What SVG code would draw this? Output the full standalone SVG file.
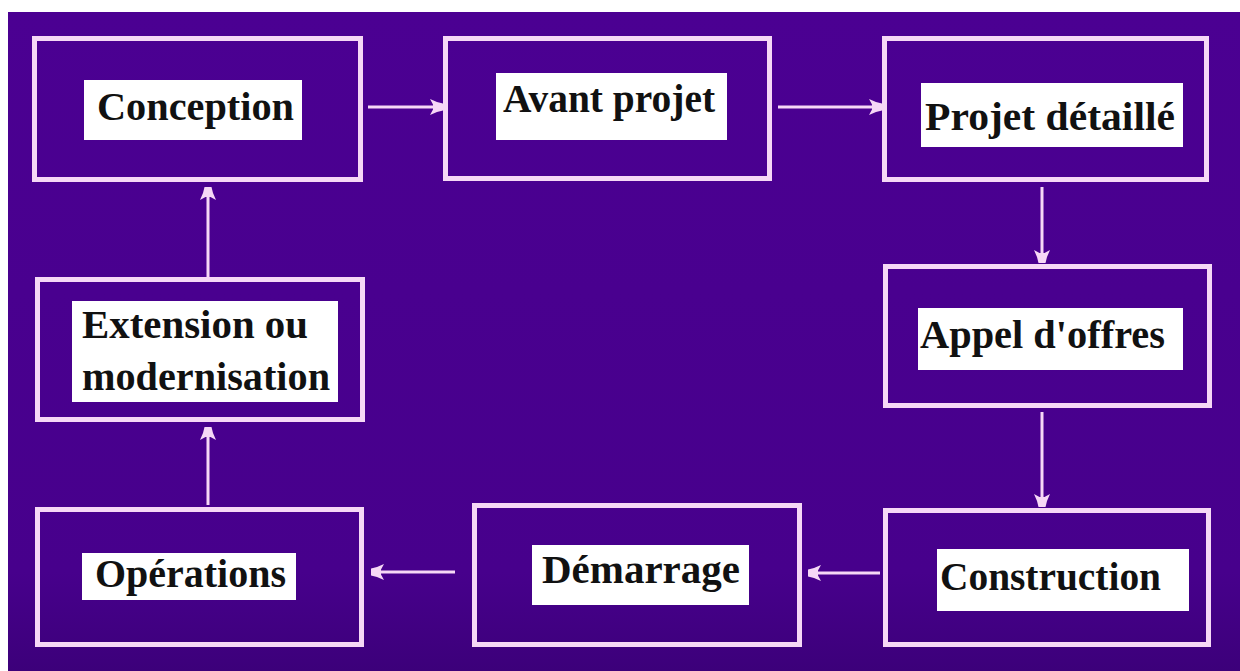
<svg xmlns="http://www.w3.org/2000/svg" width="1240" height="671" viewBox="0 0 1240 671">
  <defs>
    <linearGradient id="bg" x1="0" y1="0" x2="0" y2="1">
      <stop offset="0" stop-color="#4b0092"/>
      <stop offset="0.85" stop-color="#47008c"/>
      <stop offset="1" stop-color="#3c007a"/>
    </linearGradient>
    <marker id="arr" markerUnits="userSpaceOnUse" markerWidth="20" markerHeight="20" viewBox="-16 -10 18 20" refX="0" refY="0" orient="auto">
      <path d="M0,-3.5 L-6,-5 L-13,-8 L-10,-2.5 L-10,2.5 L-13,8 L-6,5 L0,3.5 Z" fill="#f6d8f6"/>
    </marker>
    <style>
      .box { fill: none; stroke: #f6d8f6; stroke-width: 5; }
      .lab { fill: #ffffff; }
      .t { font-family: "Liberation Serif", "Times New Roman", serif; font-weight: bold; font-size: 40px; fill: #111111; }
      .conn line { stroke: #f6d8f6; stroke-width: 3; marker-end: url(#arr); }
    </style>
  </defs>

  <rect x="0" y="0" width="1240" height="671" fill="#ffffff"/>
  <rect x="8" y="12" width="1232" height="659" fill="url(#bg)"/>

  <g id="conception">
    <rect class="box" x="34.5" y="38.5" width="326" height="141"/>
    <rect class="lab" x="84" y="80" width="218" height="60"/>
    <text class="t" x="97" y="120" textLength="197" lengthAdjust="spacingAndGlyphs">Conception</text>
  </g>
  <g id="avant-projet">
    <rect class="box" x="445.5" y="38.5" width="324" height="140"/>
    <rect class="lab" x="496" y="73" width="231" height="67"/>
    <text class="t" x="503" y="112" textLength="212" lengthAdjust="spacingAndGlyphs">Avant projet</text>
  </g>
  <g id="projet-detaille">
    <rect class="box" x="884.5" y="38.5" width="322" height="141"/>
    <rect class="lab" x="921" y="83" width="262" height="64"/>
    <text class="t" x="925" y="130" font-size="44" textLength="250" lengthAdjust="spacingAndGlyphs">Projet détaillé</text>
  </g>
  <g id="appel-offres">
    <rect class="box" x="885.5" y="266.5" width="324" height="139"/>
    <rect class="lab" x="918" y="308" width="265" height="62"/>
    <text class="t" x="920" y="348" font-size="42" textLength="245" lengthAdjust="spacingAndGlyphs">Appel d'offres</text>
  </g>
  <g id="construction">
    <rect class="box" x="885.5" y="510.5" width="323" height="134"/>
    <rect class="lab" x="937" y="549" width="252" height="62"/>
    <text class="t" x="940" y="590" font-size="44" font-weight="normal" textLength="221" lengthAdjust="spacingAndGlyphs">Construction</text>
  </g>
  <g id="demarrage">
    <rect class="box" x="474.5" y="505.5" width="325" height="139"/>
    <rect class="lab" x="532" y="545" width="217" height="60"/>
    <text class="t" x="542" y="583" textLength="198" lengthAdjust="spacingAndGlyphs">Démarrage</text>
  </g>
  <g id="operations">
    <rect class="box" x="37.5" y="509.5" width="324" height="135"/>
    <rect class="lab" x="82" y="553" width="214" height="47"/>
    <text class="t" x="95" y="587" textLength="191" lengthAdjust="spacingAndGlyphs">Opérations</text>
  </g>
  <g id="extension">
    <rect class="box" x="37.5" y="279.5" width="325" height="140"/>
    <rect class="lab" x="72" y="301" width="266" height="101"/>
    <text class="t" x="82" y="338" textLength="226" lengthAdjust="spacingAndGlyphs">Extension ou</text>
    <text class="t" x="82" y="390" textLength="248" lengthAdjust="spacingAndGlyphs">modernisation</text>
  </g>

  <g id="connectors" class="conn">
    <line x1="368" y1="107" x2="443" y2="107"/>
    <line x1="778" y1="107" x2="882" y2="107"/>
    <line x1="1042" y1="187" x2="1042" y2="263"/>
    <line x1="1042" y1="412" x2="1042" y2="507"/>
    <line x1="880" y1="573" x2="808" y2="573"/>
    <line x1="455" y1="572" x2="371" y2="572"/>
    <line x1="208" y1="505" x2="208" y2="427"/>
    <line x1="208" y1="277" x2="208" y2="187"/>
  </g>
</svg>
